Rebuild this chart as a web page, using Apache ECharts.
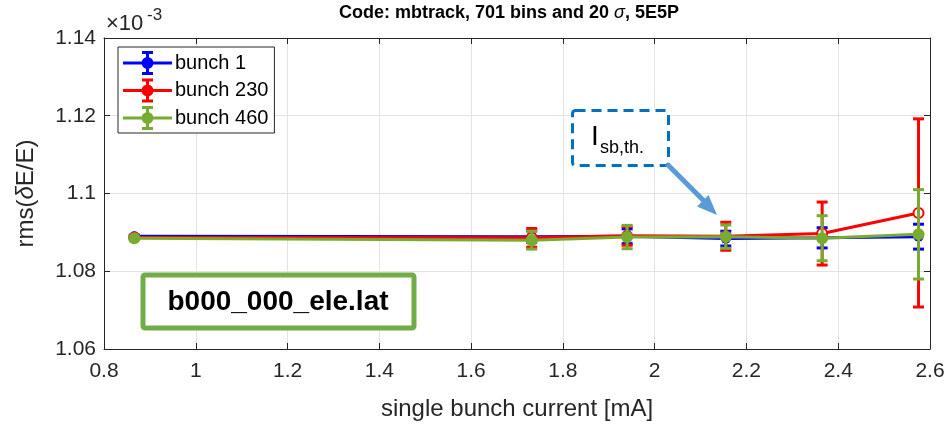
<!DOCTYPE html>
<html>
<head>
<meta charset="utf-8">
<script src="https://cdn.jsdelivr.net/npm/echarts@6/dist/echarts.min.js"></script>
<style>
  html, body { margin: 0; padding: 0; background: #fff; }
  #chart { width: 949px; height: 426px; }
</style>
</head>
<body>
<div id="chart"></div>
<script>
// Single bunch current [mA]
const currents = [0.866, 1.732, 1.94, 2.155, 2.365, 2.575];

// rms energy spread (x 1e-3) and its uncertainty for each bunch
const bunch1Mean   = [1.0890, 1.0889, 1.0890, 1.0884, 1.0886, 1.0889];
const bunch1Err    = [0.0003, 0.0015, 0.0019, 0.0019, 0.0026, 0.0032];
const bunch230Mean = [1.0887, 1.0886, 1.0891, 1.0890, 1.0897, 1.0950];
const bunch230Err  = [0.0003, 0.0024, 0.0024, 0.0036, 0.0081, 0.0242];
const bunch460Mean = [1.0885, 1.0880, 1.0888, 1.0889, 1.0885, 1.0895];
const bunch460Err  = [0.0003, 0.0023, 0.0030, 0.0030, 0.0058, 0.0115];

const seriesNames = ['bunch 1', 'bunch 230', 'bunch 460'];
const xTicks = [0.8, 1, 1.2, 1.4, 1.6, 1.8, 2, 2.2, 2.4, 2.6];
const yTicks = [1.06, 1.08, 1.1, 1.12, 1.14];

const FONT = '"Liberation Sans", Arial, Helvetica, sans-serif';
const AXIS_COLOR = '#262626';
const COLORS = ['#0000ff', '#ff0000', '#77ac30'];

// Legend glyph: line + vertical error bar with caps + marker
const ERRBAR_ICON = 'path://M0 10.5H49V13.5H0Z M23 0H26V24H23Z M19 0H30V3H19Z M19 21H30V24H19Z ' +
  'M18.5 12A6 6 0 1 1 30.5 12A6 6 0 1 1 18.5 12Z';

function errorBars(name, color, mean, err, z) {
  return {
    type: 'custom',
    name: name + ' (err)',
    z: z,
    silent: true,
    data: currents.map((x, i) => [x, mean[i] - err[i], mean[i] + err[i]]),
    encode: { x: 0, y: [1, 2] },
    renderItem(params, api) {
      const lo = api.coord([api.value(0), api.value(1)]);
      const hi = api.coord([api.value(0), api.value(2)]);
      const hw = 5.5;
      const st = { stroke: color, lineWidth: 3 };
      return {
        type: 'group',
        children: [
          { type: 'line', shape: { x1: hi[0], y1: hi[1], x2: lo[0], y2: lo[1] }, style: st },
          { type: 'line', shape: { x1: hi[0] - hw, y1: hi[1], x2: hi[0] + hw, y2: hi[1] }, style: st },
          { type: 'line', shape: { x1: lo[0] - hw, y1: lo[1], x2: lo[0] + hw, y2: lo[1] }, style: st }
        ]
      };
    }
  };
}

function meanLine(name, color, mean, symbol, size, z) {
  return {
    type: 'line',
    name: name,
    z: z,
    data: currents.map((x, i) => [x, mean[i]]),
    symbol: symbol,
    symbolSize: size,
    showAllSymbol: true,
    lineStyle: { color: color, width: 3 },
    itemStyle: { color: color, borderColor: color, borderWidth: symbol === 'emptyCircle' ? 3 : 0 },
    emphasis: { disabled: true },
    animation: false
  };
}

const chart = echarts.init(document.getElementById('chart'), null, { renderer: 'canvas' });

const xFmt = v => String(parseFloat(v.toFixed(1)));
const yFmt = v => String(parseFloat(v.toFixed(2)));

chart.setOption({
  backgroundColor: '#ffffff',
  animation: false,
  textStyle: { fontFamily: FONT },
  grid: { left: 104, right: 19, top: 38, bottom: 77, show: true, backgroundColor: '#fff', borderWidth: 0 },
  legend: {
    orient: 'vertical',
    left: 118,
    top: 47,
    padding: [4, 6, 3, 5],
    itemWidth: 49,
    itemHeight: 24,
    itemGap: 3.5,
    backgroundColor: '#ffffff',
    borderColor: AXIS_COLOR,
    borderWidth: 1,
    textStyle: { fontFamily: FONT, fontSize: 20, color: '#000', padding: [0, 0, 0, -2] },
    selectedMode: false,
    data: seriesNames.map((n, i) => ({
      name: n, icon: ERRBAR_ICON,
      itemStyle: { color: COLORS[i], borderWidth: 0 }
    }))
  },
  xAxis: [
    {
      type: 'value', position: 'bottom',
      min: xTicks[0], max: xTicks[xTicks.length - 1], interval: 0.2,
      axisLine: { show: true, onZero: false, lineStyle: { color: AXIS_COLOR, width: 1 } },
      axisTick: { show: true, inside: true, length: 6, lineStyle: { color: AXIS_COLOR } },
      splitLine: { show: true, lineStyle: { color: '#e3e3e3', width: 1 } },
      axisLabel: { formatter: xFmt, fontSize: 21, color: AXIS_COLOR, margin: 12, fontFamily: FONT },
      name: 'single bunch current [mA]',
      nameLocation: 'middle',
      nameGap: 48,
      nameTextStyle: { fontSize: 24, color: AXIS_COLOR, fontFamily: FONT }
    },
    {
      type: 'value', position: 'top',
      min: xTicks[0], max: xTicks[xTicks.length - 1], interval: 0.2,
      axisLine: { show: true, onZero: false, lineStyle: { color: AXIS_COLOR, width: 1 } },
      axisTick: { show: true, inside: true, length: 6, lineStyle: { color: AXIS_COLOR } },
      splitLine: { show: false },
      axisLabel: { show: false }
    }
  ],
  yAxis: [
    {
      type: 'value', position: 'left',
      min: yTicks[0], max: yTicks[yTicks.length - 1], interval: 0.02,
      axisLine: { show: true, onZero: false, lineStyle: { color: AXIS_COLOR, width: 1 } },
      axisTick: { show: true, inside: true, length: 6, lineStyle: { color: AXIS_COLOR } },
      splitLine: { show: true, lineStyle: { color: '#e3e3e3', width: 1 } },
      axisLabel: { formatter: yFmt, fontSize: 21, color: AXIS_COLOR, margin: 8, fontFamily: FONT },
      name: '{n|rms(}{d|δ}{n|E/E)}',
      nameLocation: 'middle',
      nameGap: 66,
      nameTextStyle: {
        color: AXIS_COLOR,
        rich: {
          n: { fontSize: 24, fontFamily: FONT, color: AXIS_COLOR },
          d: { fontSize: 24, fontFamily: FONT, fontStyle: 'italic', color: AXIS_COLOR }
        }
      }
    },
    {
      type: 'value', position: 'right',
      min: yTicks[0], max: yTicks[yTicks.length - 1], interval: 0.02,
      axisLine: { show: true, onZero: false, lineStyle: { color: AXIS_COLOR, width: 1 } },
      axisTick: { show: true, inside: true, length: 6, lineStyle: { color: AXIS_COLOR } },
      splitLine: { show: false },
      axisLabel: { show: false }
    }
  ],
  series: [
    errorBars(seriesNames[0], COLORS[0], bunch1Mean, bunch1Err, 3),
    meanLine(seriesNames[0], COLORS[0], bunch1Mean, 'circle', 10, 4),
    errorBars(seriesNames[1], COLORS[1], bunch230Mean, bunch230Err, 5),
    meanLine(seriesNames[1], COLORS[1], bunch230Mean, 'emptyCircle', 10, 6),
    errorBars(seriesNames[2], COLORS[2], bunch460Mean, bunch460Err, 7),
    meanLine(seriesNames[2], COLORS[2], bunch460Mean, 'circle', 12, 8)
  ],
  graphic: [
    // title
    {
      type: 'text', x: 509, y: 13, z: 20,
      style: {
        text: '{b|Code: mbtrack, 701 bins and 20 }{s|σ}{b|, 5E5P}',
        align: 'center', verticalAlign: 'middle',
        rich: {
          b: { fontSize: 18, fontWeight: 'bold', fontFamily: FONT, fill: '#000' },
          s: { fontSize: 18, fontStyle: 'italic', fontFamily: FONT, fill: '#000' }
        }
      }
    },
    // axis multiplier
    { type: 'text', x: 106, y: 24, z: 20,
      style: { text: '×10', fontSize: 22, fontFamily: FONT, fill: AXIS_COLOR, verticalAlign: 'middle' } },
    { type: 'text', x: 147, y: 15, z: 20,
      style: { text: '-3', fontSize: 17, fontFamily: FONT, fill: AXIS_COLOR, verticalAlign: 'middle' } },
    // threshold annotation box
    { type: 'rect', z: 20,
      shape: { x: 572.5, y: 110.5, width: 96, height: 55, r: 3 },
      style: { fill: '#fff', stroke: '#0070c0', lineWidth: 3, lineDash: [10, 6] } },
    { type: 'text', x: 591, y: 137, z: 21,
      style: { text: 'I', fontSize: 28, fontFamily: FONT, fill: '#000', verticalAlign: 'middle' } },
    { type: 'text', x: 600, y: 148, z: 21,
      style: { text: 'sb,th.', fontSize: 18, fontFamily: FONT, fill: '#000', verticalAlign: 'middle' } },
    // arrow
    { type: 'line', z: 20,
      shape: { x1: 667, y1: 164, x2: 704, y2: 201 },
      style: { stroke: '#5b9bd5', lineWidth: 5 } },
    { type: 'polygon', z: 20,
      shape: { points: [[717, 215], [697, 206.5], [708.5, 195]] },
      style: { fill: '#5b9bd5' } },
    // lattice label
    { type: 'rect', z: 20,
      shape: { x: 143, y: 275, width: 271, height: 53, r: 2 },
      style: { fill: '#fff', stroke: '#70ad47', lineWidth: 5 } },
    { type: 'text', x: 278, y: 302, z: 21,
      style: { text: 'b000_000_ele.lat', fontSize: 28, fontWeight: 'bold', fontFamily: FONT,
               fill: '#000', align: 'center', verticalAlign: 'middle' } }
  ]
});
</script>
</body>
</html>
